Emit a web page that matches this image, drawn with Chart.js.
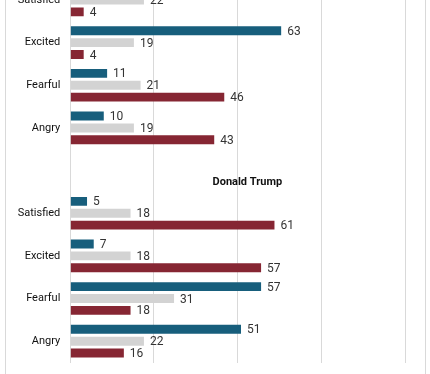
<!DOCTYPE html>
<html>
<head>
<meta charset="utf-8">
<script src="https://cdn.jsdelivr.net/npm/chart.js@4"></script>
<style>
  html, body { margin: 0; padding: 0; width: 430px; height: 374px; overflow: hidden; background: #fff; }
  .chart-wrap { position: absolute; left: 0; top: -90px; width: 430px; height: 500px; }
</style>
</head>
<body>
<div class="chart-wrap"><canvas id="emotionChart"></canvas></div>
<script>
var categories = ['', 'Satisfied', 'Excited', 'Fearful', 'Angry', '', 'Satisfied', 'Excited', 'Fearful', 'Angry'];
var groupTitles = ['Hillary Clinton', 'Donald Trump'];
var groupTitleRows = [0, 5];
var seriesNames = ['Clinton supporters', 'Neither', 'Trump supporters'];
var blueValues = [null, 58, 63, 11, 10, null, 5, 7, 57, 51];
var grayValues = [null, 22, 19, 21, 19, null, 18, 18, 31, 22];
var redValues = [null, 4, 4, 46, 43, null, 61, 57, 18, 16];
var xTicks = [0, 25, 50, 75, 100];

document.addEventListener('DOMContentLoaded', function() {

  // value labels to the right of each bar
  var barValues = {
    id: 'barValues',
    afterDatasetsDraw: function(chart) {
      var ctx = chart.ctx;
      ctx.save();
      ctx.font = '12px Roboto';
      ctx.fillStyle = '#333';
      ctx.textBaseline = 'middle';
      ctx.textAlign = 'left';
      chart.data.datasets.forEach(function(ds, i) {
        chart.getDatasetMeta(i).data.forEach(function(bar, j) {
          if (ds.data[j] == null) return;
          ctx.fillText(ds.data[j], bar.x + 6, bar.y + 1);
        });
      });
      ctx.restore();
    }
  };

  // group headings and the side lines of the frame
  var groupHeads = {
    id: 'groupHeads',
    beforeDraw: function(chart) {
      var ctx = chart.ctx;
      ctx.save();
      ctx.strokeStyle = '#d9d9d9';
      ctx.lineWidth = 1;
      ctx.beginPath();
      ctx.moveTo(5.5, 0); ctx.lineTo(5.5, chart.height);
      ctx.moveTo(425.5, 0); ctx.lineTo(425.5, chart.height);
      ctx.stroke();
      ctx.restore();
    },
    afterDraw: function(chart) {
      var ctx = chart.ctx;
      var x = chart.scales.x.getPixelForValue(42.5);
      ctx.save();
      ctx.font = 'bold 11px Roboto';
      ctx.fillStyle = '#111';
      ctx.textBaseline = 'middle';
      ctx.textAlign = 'left';
      groupTitles.forEach(function(t, i) {
        var y = chart.scales.y.getPixelForValue(groupTitleRows[i]) + 12;
        ctx.fillText(t, x, y);
      });
      ctx.restore();
    }
  };

  var ctx = document.getElementById('emotionChart').getContext('2d');
  new Chart(ctx, {
    type: 'bar',
    data: {
      labels: categories,
      datasets: [
        { label: seriesNames[0], data: blueValues, backgroundColor: '#175e7c' },
        { label: seriesNames[1], data: grayValues, backgroundColor: '#d3d3d3' },
        { label: seriesNames[2], data: redValues, backgroundColor: '#862633' }
      ]
    },
    options: {
      indexAxis: 'y',
      responsive: true,
      maintainAspectRatio: false,
      animation: false,
      datasets: { bar: { categoryPercentage: 0.836, barPercentage: 0.75 } },
      layout: { padding: { top: 26, right: 25, left: 0, bottom: 20 } },
      plugins: {
        legend: { display: false },
        tooltip: { enabled: false }
      },
      scales: {
        x: {
          min: 0,
          max: 100,
          afterBuildTicks: function(scale) {
            scale.ticks = xTicks.map(function(v) { return { value: v }; });
          },
          afterFit: function(scale) { scale.height = 27.5; },
          grid: { color: '#d9d9d9', drawTicks: false },
          border: { display: false },
          ticks: { font: { family: 'Roboto', size: 11 }, color: '#444', padding: 10 }
        },
        y: {
          afterFit: function(scale) { scale.width = 70.3; },
          grid: { display: false, drawTicks: false },
          border: { display: false },
          ticks: { font: { family: 'Roboto', size: 11 }, color: '#111', padding: 10 }
        }
      }
    },
    plugins: [barValues, groupHeads]
  });
});
</script>
</body>
</html>
